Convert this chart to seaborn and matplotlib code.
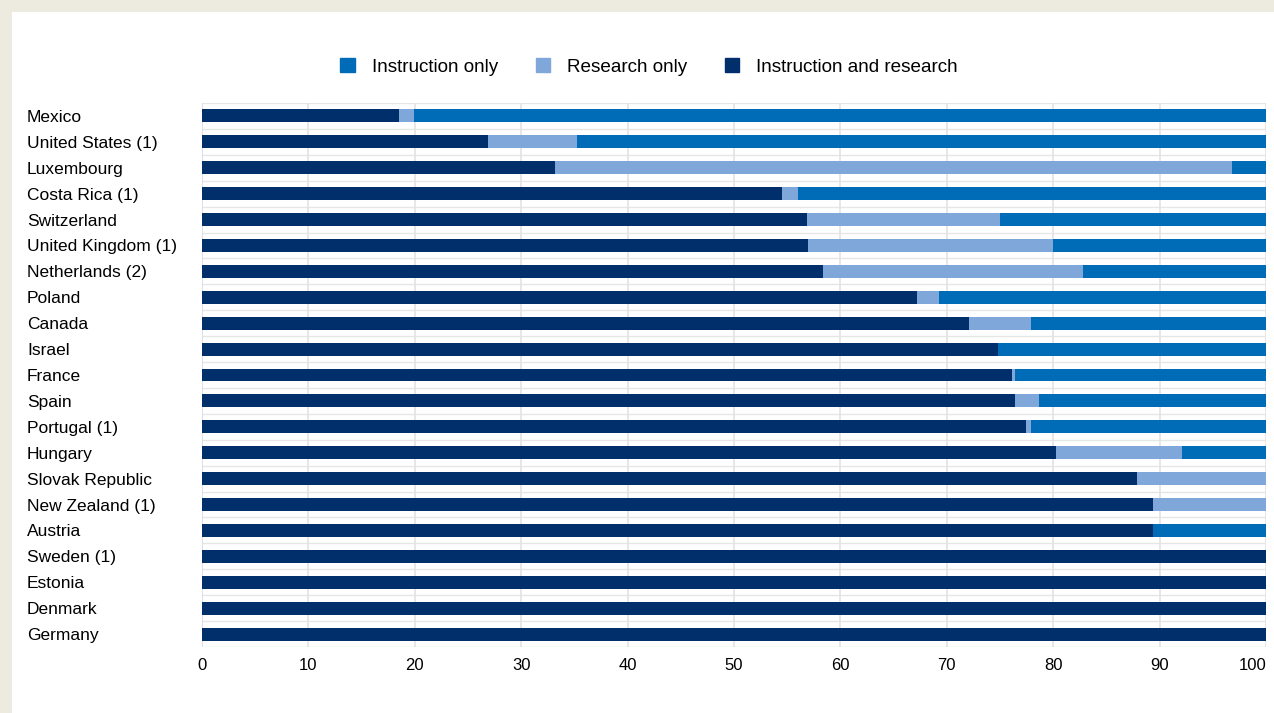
import matplotlib.pyplot as plt
import pandas as pd
import seaborn as sns
from matplotlib.patches import Patch, Rectangle

countries = [
    "Mexico", "United States (1)", "Luxembourg", "Costa Rica (1)", "Switzerland",
    "United Kingdom (1)", "Netherlands (2)", "Poland", "Canada", "Israel",
    "France", "Spain", "Portugal (1)", "Hungary", "Slovak Republic",
    "New Zealand (1)", "Austria", "Sweden (1)", "Estonia", "Denmark", "Germany",
]
instr_research = [18.5, 26.9, 33.2, 54.5, 56.9, 57.0, 58.4, 67.2, 72.1, 74.8,
                  76.1, 76.4, 77.4, 80.3, 87.9, 89.4, 89.4, 100, 100, 100, 100]
research_only = [1.4, 8.3, 63.6, 1.5, 18.1, 23.0, 24.4, 2.1, 5.8, 0.0,
                 0.3, 2.3, 0.5, 11.8, 12.1, 10.6, 0.0, 0, 0, 0, 0]
instruction_only = [80.1, 64.8, 3.2, 44.0, 25.0, 20.0, 17.2, 30.7, 22.1, 25.2,
                    23.6, 21.3, 22.1, 7.9, 0.0, 0.0, 10.6, 0, 0, 0, 0]

C_INSTR = "#006bb6"
C_RES = "#7fa7d9"
C_BOTH = "#002f6c"

df = pd.DataFrame({
    "country": countries,
    "both": instr_research,
    "research": research_only,
    "instr": instruction_only,
})
df["cum_research"] = df["both"] + df["research"]
df["cum_instr"] = df["cum_research"] + df["instr"]

sns.set_style("white")
plt.rcParams["font.family"] = ["Liberation Sans", "DejaVu Sans"]
plt.rcParams["text.color"] = "black"

fig = plt.figure(figsize=(12.74, 7.13), dpi=100)
fig.patch.set_facecolor("#edebe0")
fig.patches.append(Rectangle((12 / 1274, 0), 1, 1 - 12 / 713,
                             transform=fig.transFigure, facecolor="white",
                             edgecolor="none", zorder=-10))
ax = fig.add_axes([202 / 1274, 1 - 647 / 713, 1064 / 1274, 544 / 713])
ax.set_zorder(5)
ax.set_facecolor("white")

# stacked look: draw cumulative totals from the longest to the shortest
for col, color in [("cum_instr", C_INSTR), ("cum_research", C_RES), ("both", C_BOTH)]:
    sns.barplot(data=df, x=col, y="country", color=color, orient="h",
                width=0.5, saturation=1, linewidth=0, ax=ax, zorder=3)

ax.set_xlim(0, 100)
ax.set_ylim(len(countries) - 0.5, -0.5)
ax.set_xticks(range(0, 101, 10))
ax.set_xlabel("")
ax.set_ylabel("")
ax.grid(axis="x", color="#e3e3e3", linewidth=1.2, zorder=0)
for y in range(len(countries) + 1):
    ax.axhline(y - 0.5, color="#e6e6e6", linewidth=1, zorder=0)
for s in ax.spines.values():
    s.set_visible(False)
ax.axvline(0, color="#d8deea", linewidth=1.2, zorder=1)

# pad is in points: 175 px at 100 dpi
ax.tick_params(axis="y", length=0, pad=175 * 72 / 100, labelsize=12.5, labelcolor="black")
for lbl in ax.get_yticklabels():
    lbl.set_horizontalalignment("left")
ax.tick_params(axis="x", length=0, pad=8, labelsize=12, labelcolor="black")
ax.get_xticklabels()[-1].set_horizontalalignment("right")

handles = [Patch(color=C_INSTR, label="Instruction only"),
           Patch(color=C_RES, label="Research only"),
           Patch(color=C_BOTH, label="Instruction and research")]
fig.legend(handles=handles, loc="center", bbox_to_anchor=(649 / 1274, 1 - 67 / 713),
           ncol=3, frameon=False, fontsize=13.6, handlelength=0.75, handleheight=0.75,
           columnspacing=2.0, handletextpad=0.9)

fig.savefig("out.png", dpi=100, facecolor=fig.get_facecolor())
